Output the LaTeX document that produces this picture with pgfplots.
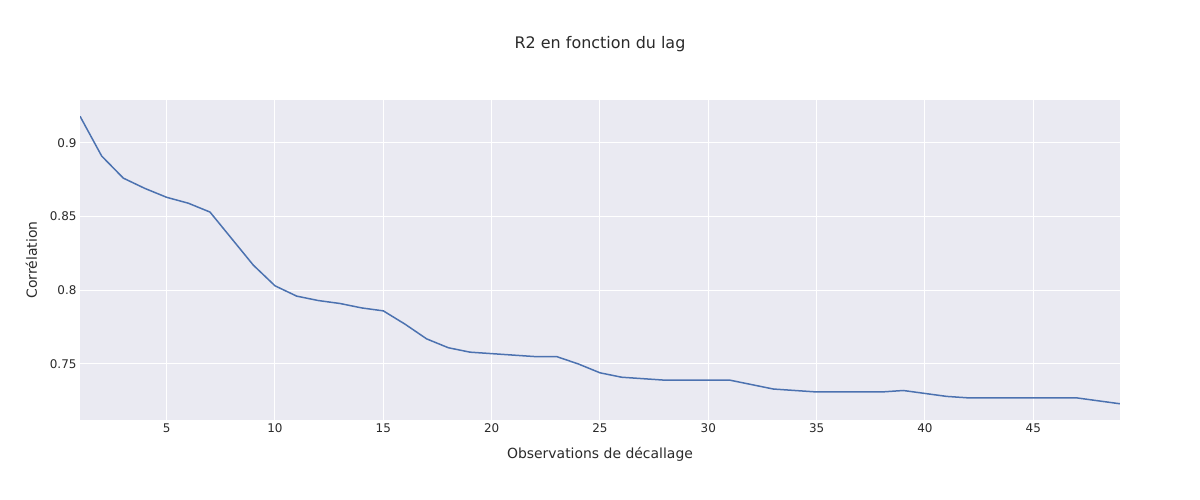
\documentclass[border=0pt]{standalone}
\usepackage{pgfplots}
\pgfplotsset{compat=1.18}
\usepackage{fontspec}
\setmainfont{DejaVu Sans}
\definecolor{bgp}{HTML}{EAEAF2}
\definecolor{ln}{HTML}{4C72B0}
\definecolor{tx}{HTML}{2A2A2A}
\begin{document}
\begin{tikzpicture}[x=1bp,y=1bp]
\path[use as bounding box,fill=white] (0,0) rectangle (1200,500);
\node[text=tx,font=\fontsize{16}{19}\selectfont] at (600,456) {R2 en fonction du lag};
\begin{axis}[at={(80bp,80bp)},anchor=south west,scale only axis,
 width=1040bp,height=320bp,
 xmin=1,xmax=49,ymin=0.712,ymax=0.929,
 axis background/.style={fill=bgp},axis line style={draw=none},
 grid=major,grid style={white,line width=1bp},
 xtick={5,10,...,45},ytick={0.75,0.8,0.85,0.9},
 yticklabels={0.75,0.8,0.85,0.9},
 tick style={draw=none},
 tick label style={font=\fontsize{12}{14}\selectfont,text=tx},
 /pgf/number format/assume math mode=true,
 xlabel={Observations de décallage},ylabel={Corrélation},
 label style={font=\fontsize{14}{16}\selectfont,text=tx},
 xlabel style={yshift=-8bp},ylabel style={yshift=6bp}]
\addplot[ln,line width=1.5bp,mark=none] coordinates {
(1,0.918)(2,0.891)(3,0.876)(4,0.869)(5,0.863)(6,0.859)(7,0.853)(8,0.835)(9,0.817)(10,0.803)
(11,0.796)(12,0.793)(13,0.791)(14,0.788)(15,0.786)(16,0.777)(17,0.767)(18,0.761)(19,0.758)(20,0.757)
(21,0.756)(22,0.755)(23,0.755)(24,0.750)(25,0.744)(26,0.741)(27,0.740)(28,0.739)(29,0.739)(30,0.739)
(31,0.739)(32,0.736)(33,0.733)(34,0.732)(35,0.731)(36,0.731)(37,0.731)(38,0.731)(39,0.732)(40,0.730)
(41,0.728)(42,0.727)(43,0.727)(44,0.727)(45,0.727)(46,0.727)(47,0.727)(48,0.725)(49,0.723)};
\end{axis}
\end{tikzpicture}
\end{document}
